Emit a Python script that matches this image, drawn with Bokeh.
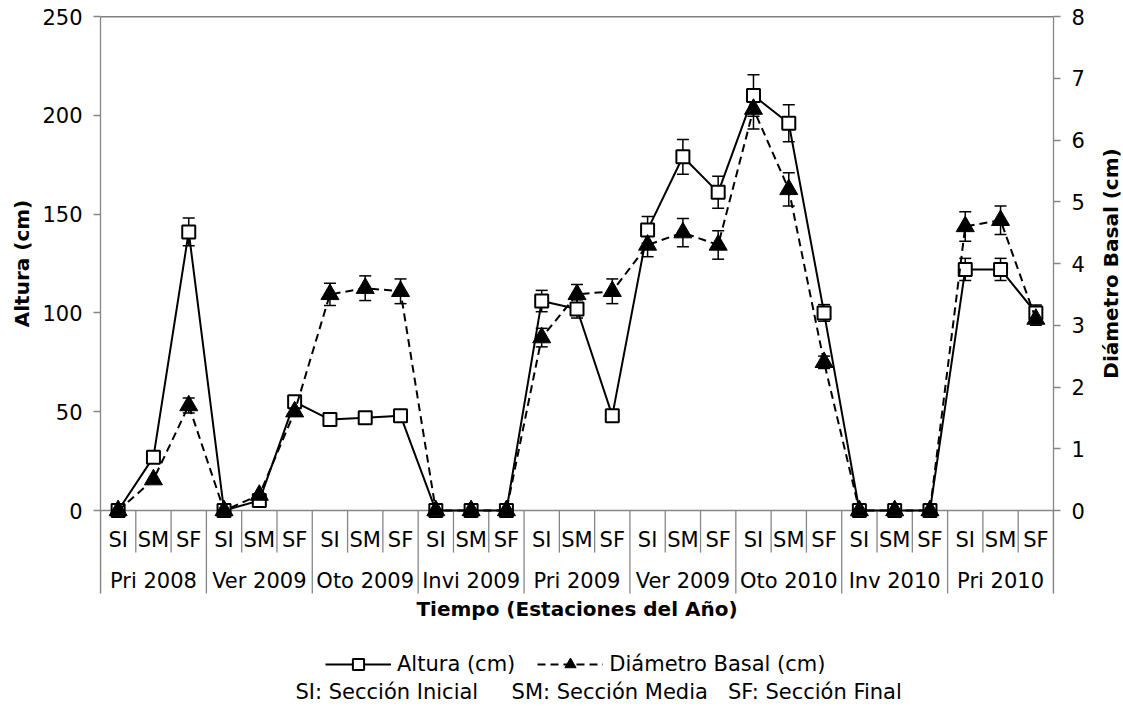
import math
import numpy as np
from bokeh.plotting import figure
from bokeh.layouts import row
from bokeh.models import (Range1d, LinearAxis, FixedTicker, ColumnDataSource, Whisker,
                          TeeHead, Span, Legend, LegendItem)
from bokeh.core.properties import value
from bokeh.embed import file_html
from bokeh.resources import INLINE

# ---------------- data ----------------
seasons = ["Pri 2008", "Ver 2009", "Oto 2009", "Invi 2009", "Pri 2009",
           "Ver 2009", "Oto 2010", "Inv 2010", "Pri 2010"]
sections = ["SI", "SM", "SF"]

altura = [0, 27, 141, 0, 5, 55, 46, 47, 48, 0, 0, 0, 106, 102, 48,
          142, 179, 161, 210, 196, 100, 0, 0, 0, 122, 122, 100]
altura_err = [0, 0.5, 7, 0, 0.5, 0.5, 0.5, 0.5, 0.5, 0, 0, 0, 5.4, 4.6, 0.5,
              6.8, 8.8, 8.1, 10.5, 9.4, 4.2, 0, 0, 0, 5.6, 5.6, 4]
diametro = [0, 0.5, 1.7, 0, 0.25, 1.6, 3.5, 3.6, 3.55, 0, 0, 0, 2.8, 3.5, 3.55,
            4.3, 4.5, 4.3, 6.5, 5.2, 2.4, 0, 0, 0, 4.6, 4.7, 3.1]
diametro_err = [0, 0, 0.12, 0, 0, 0, 0.18, 0.2, 0.2, 0, 0, 0, 0.15, 0.16, 0.2,
                0.19, 0.23, 0.23, 0.32, 0.27, 0.1, 0, 0, 0, 0.24, 0.23, 0.1]

left_ticks = [0, 50, 100, 150, 200, 250]
right_ticks = [0, 1, 2, 3, 4, 5, 6, 7, 8]

x_title = "Tiempo (Estaciones del Año)"
y_title = "Altura (cm)"
y2_title = "Diámetro Basal (cm)"
nb = "\u00a0"
note = "SI: Sección Inicial" + nb * 5 + "SM: Sección Media" + nb * 3 + "SF: Sección Final"

# ---------------- styling constants ----------------
FONT = "DejaVu Sans"
FS = "21px"
GRAY = "#868686"
LEFT_MAX = 250
RIGHT_MAX = 8
FRAME_W = 953
FRAME_H = 692             # frame pixels (top of axis to bottom of page)
TOP = 16
PX_PER_UNIT = 494 / LEFT_MAX
FRAME_BOTTOM = LEFT_MAX - FRAME_H / PX_PER_UNIT   # frame extends below 0 for labels/legend
AXIS_BOTTOM = -42.0       # end of the two-level category separators
SHORT_SEP = -21.3
LEFT_STRIP = 38           # narrow strips that hold the rotated axis titles
RIGHT_STRIP = 28
MAIN_BORDER_L = 62
MAIN_BORDER_R = 40

n_sec = len(sections)
n = len(seasons) * n_sec
x = np.arange(n) + 0.5
sec_labels = [sections[i % n_sec] for i in range(n)]
grp_x = np.arange(len(seasons)) * n_sec + n_sec / 2.0
r_scale = RIGHT_MAX / LEFT_MAX
px_x = FRAME_W / n        # pixels per category

p = figure(frame_width=FRAME_W, frame_height=FRAME_H,
           x_range=Range1d(0, n), y_range=Range1d(FRAME_BOTTOM, LEFT_MAX),
           x_axis_location=None, y_axis_location="left",
           output_backend="svg", toolbar_location=None,
           min_border_left=MAIN_BORDER_L, min_border_right=MAIN_BORDER_R,
           min_border_top=TOP, min_border_bottom=0)
p.extra_y_ranges = {"d": Range1d(FRAME_BOTTOM * r_scale, RIGHT_MAX)}
p.grid.visible = False
p.outline_line_color = None
p.background_fill_color = "white"
p.border_fill_color = "white"


def style_axis(a, label_standoff):
    a.major_label_text_font = FONT
    a.major_label_text_font_size = FS
    a.major_label_text_color = "black"
    a.major_label_standoff = label_standoff
    a.axis_line_color = GRAY
    a.axis_line_width = 1.3
    a.major_tick_line_color = GRAY
    a.major_tick_line_width = 1.3
    a.major_tick_out = 7
    a.major_tick_in = 0
    a.minor_tick_line_color = None


# left axis
ax = p.yaxis[0]
ax.ticker = FixedTicker(ticks=left_ticks)
ax.bounds = (AXIS_BOTTOM, LEFT_MAX)
style_axis(ax, 11)

# right axis
rax = LinearAxis(y_range_name="d", ticker=FixedTicker(ticks=right_ticks),
                 bounds=(AXIS_BOTTOM * r_scale, RIGHT_MAX))
style_axis(rax, 11)
p.add_layout(rax, "right")

# top border and x axis line
p.add_layout(Span(location=LEFT_MAX, dimension="width", line_color="black",
                  line_width=1.3, level="underlay"))
p.add_layout(Span(location=0, dimension="width", line_color=GRAY,
                  line_width=1.3, level="underlay"))

# category separators and labels (two-level axis)
bounds = np.arange(n + 1)
sep_end = [AXIS_BOTTOM if b % n_sec == 0 else SHORT_SEP for b in bounds]
p.segment(x0=bounds, y0=0, x1=bounds, y1=sep_end, line_color=GRAY, line_width=1.3,
          level="underlay")
p.text(x=x, y=-14.9, text=sec_labels, text_align="center", text_baseline="middle",
       text_font=value(FONT), text_font_size=FS, text_color="black")
p.text(x=grp_x, y=-35.6, text=seasons, text_align="center", text_baseline="middle",
       text_font=value(FONT), text_font_size=FS, text_color="black")
p.text(x=[n / 2.0], y=[-50.1], text=[x_title], text_align="center",
       text_baseline="middle", text_font=value(FONT), text_font_size="20px",
       text_font_style="bold", text_color="black")
p.text(x=[195.0 / px_x], y=[-91.6], text=[note], text_align="left",
       text_baseline="middle", text_font=value(FONT), text_font_size=FS,
       text_color="black")

# ---------------- series ----------------
src_a = ColumnDataSource(dict(x=x, y=altura))
src_d = ColumnDataSource(dict(x=x, y=diametro))

l1 = p.line("x", "y", source=src_a, line_color="black", line_width=2)
s1 = p.scatter("x", "y", source=src_a, marker="square", size=13, fill_color="white",
               line_color="black", line_width=2)

mask_a = [i for i in range(n) if altura_err[i] > 0]
wa = ColumnDataSource(dict(x=[x[i] for i in mask_a],
                           lo=[altura[i] - altura_err[i] for i in mask_a],
                           hi=[altura[i] + altura_err[i] for i in mask_a]))
p.add_layout(Whisker(source=wa, base="x", lower="lo", upper="hi", dimension="height",
                     line_color="black", line_width=1.5,
                     lower_head=TeeHead(size=12, line_width=1.5, line_color="black"),
                     upper_head=TeeHead(size=12, line_width=1.5, line_color="black")))

l2 = p.line("x", "y", source=src_d, y_range_name="d", line_color="black", line_width=2,
            line_dash="8 5")
s2 = p.scatter("x", "y", source=src_d, y_range_name="d", marker="triangle", size=18,
               fill_color="black", line_color="black", line_width=1)

mask_d = [i for i in range(n) if diametro_err[i] > 0]
wd = ColumnDataSource(dict(x=[x[i] for i in mask_d],
                           lo=[diametro[i] - diametro_err[i] for i in mask_d],
                           hi=[diametro[i] + diametro_err[i] for i in mask_d]))
p.add_layout(Whisker(source=wd, base="x", lower="lo", upper="hi", dimension="height",
                     y_range_name="d", line_color="black", line_width=1.5,
                     lower_head=TeeHead(size=12, line_width=1.5, line_color="black"),
                     upper_head=TeeHead(size=12, line_width=1.5, line_color="black")))

# ---------------- legend ----------------
legend = Legend(items=[LegendItem(label="Altura (cm)", renderers=[l1, s1]),
                       LegendItem(label="Diámetro Basal (cm)", renderers=[l2, s2])],
                orientation="horizontal", location=(225, 30),
                glyph_width=66, glyph_height=28, label_standoff=6, spacing=22,
                border_line_color=None, background_fill_alpha=0, padding=0, margin=0,
                label_text_font=FONT, label_text_font_size=FS,
                label_text_color="black")
p.add_layout(legend)


# ---------------- side strips with the rotated axis titles ----------------
def title_strip(width, text, xpos):
    s = figure(width=width, height=TOP + FRAME_H,
               x_range=Range1d(0, width), y_range=Range1d(FRAME_BOTTOM, LEFT_MAX),
               x_axis_location=None, y_axis_location=None,
               output_backend="svg", toolbar_location=None,
               min_border_left=0, min_border_right=0, min_border_top=TOP,
               min_border_bottom=0)
    s.grid.visible = False
    s.outline_line_color = None
    s.background_fill_color = "white"
    s.border_fill_color = "white"
    s.text(x=[xpos], y=[LEFT_MAX / 2.0], text=[text], angle=math.pi / 2,
           text_align="center", text_baseline="middle", text_font=value(FONT),
           text_font_size="20px", text_font_style="bold", text_color="black")
    return s


left_strip = title_strip(LEFT_STRIP, y_title, 21.5)
right_strip = title_strip(RIGHT_STRIP, y2_title, 17.0)

layout = row(left_strip, p, right_strip, spacing=0)

open("out.html", "w").write(file_html(layout, INLINE))
